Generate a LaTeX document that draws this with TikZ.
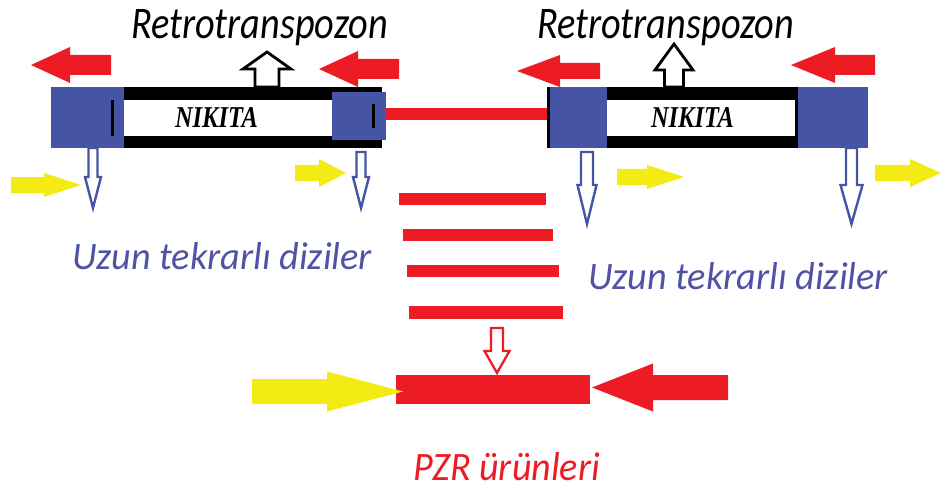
\documentclass[tikz,border=0pt]{standalone}
\usepackage{fontspec}
\usepackage{graphicx}
\setmainfont{Carlito}
\newfontfamily\nikfont{Liberation Serif}
\definecolor{bred}{HTML}{ED1C24}
\definecolor{bblue}{HTML}{4654A5}
\definecolor{byellow}{HTML}{F5EB14}
\definecolor{tblue}{HTML}{5052A6}
% horizontal block arrow: tip x, centre y, head-base x, tail x, half shaft, half head, style
\newcommand\hblockarrow[7]{%
  \path[#7] (#4,#2-#5) -- (#3,#2-#5) -- (#3,#2-#6) -- (#1,#2) -- (#3,#2+#6) -- (#3,#2+#5) -- (#4,#2+#5) -- cycle;}
% vertical block arrow: centre x, tip y, head-base y, tail y, half shaft, half head, style
\newcommand\vblockarrow[7]{%
  \path[#7] (#1-#5,#4) -- (#1-#5,#3) -- (#1-#6,#3) -- (#1,#2) -- (#1+#6,#3) -- (#1+#5,#3) -- (#1+#5,#4) -- cycle;}
\tikzset{
  redarrow/.style={fill=bred},
  yelarrow/.style={fill=byellow},
  bluedown/.style={draw=bblue,fill=white,line width=2.4pt,line join=miter},
  blackup/.style={draw=black,fill=white,line width=2.8pt,line join=miter},
  reddown/.style={draw=bred,fill=white,line width=2.3pt,line join=miter},
  lbl/.style={anchor=base west,inner sep=0pt,outer sep=0pt},
  redbar/.style={fill=bred},
}
\begin{document}
\begin{tikzpicture}[x=1pt,y=-1pt]
\useasboundingbox (0,0) rectangle (941,489);
% ---------- left element ----------
\fill[black] (124,87) rectangle (382,148);
\fill[white] (124,100) rectangle (332,136);
\fill[bblue] (51,87) rectangle (124,148);
\fill[bblue] (332,92) rectangle (386,140);
\fill[black] (111,100) rectangle (114,136);
\fill[black] (372,104) rectangle (375,128);
\coordinate (lend) at (386,114);
% ---------- right element ----------
\fill[black] (547,87) rectangle (798,148);
\fill[white] (607,100) rectangle (795,136);
\fill[bblue] (550,87) rectangle (607,148);
\fill[bblue] (798,87) rectangle (868,148);
\coordinate (rstart) at (547,114);
% connecting red line
\draw[bred,line width=12pt] (lend) -- (rstart);
% ---------- texts ----------
\node[lbl] (rt1) at (131,39) {\resizebox{257pt}{29pt}{\itshape Retrotranspozon}};
\node[lbl] (rt2) at (537,39) {\resizebox{257pt}{29pt}{\itshape Retrotranspozon}};
\node[lbl] (nk1) at (175,128) {\resizebox{83pt}{20pt}{\nikfont\bfseries\itshape NIKITA}};
\node[lbl] (nk2) at (651,128) {\resizebox{83pt}{20pt}{\nikfont\bfseries\itshape NIKITA}};
\node[lbl,text=tblue] (uz1) at (72,269) {\resizebox{300pt}{27pt}{\itshape Uzun tekrarlı diziler}};
\node[lbl,text=tblue] (uz2) at (588,289) {\resizebox{300pt}{27pt}{\itshape Uzun tekrarlı diziler}};
\node[lbl,text=bred] (pzr) at (413,480) {\resizebox{187pt}{28pt}{\itshape PZR ürünleri}};
% ---------- black up arrows ----------
\vblockarrow{267}{52}{69}{87}{12}{24}{blackup}
\vblockarrow{674}{44}{70}{87}{9.5}{19}{blackup}
% ---------- red left arrows ----------
\hblockarrow{31}{65}{70}{111}{10}{18}{redarrow}
\hblockarrow{319}{69}{358}{399}{10}{18}{redarrow}
\hblockarrow{517}{71}{560}{600}{8}{16}{redarrow}
\hblockarrow{791}{65}{835}{875}{10}{18}{redarrow}
% ---------- blue down arrows ----------
\vblockarrow{93}{208}{177}{148}{4.5}{8}{bluedown}
\vblockarrow{361}{208}{177}{152}{4.5}{8}{bluedown}
\vblockarrow{587}{224}{185}{152}{6}{9.5}{bluedown}
\vblockarrow{851.5}{224}{185}{148}{5.5}{11}{bluedown}
% ---------- yellow right arrows ----------
\hblockarrow{81}{185}{44}{11}{8}{12}{yelarrow}
\hblockarrow{346}{173}{319}{295}{8}{14}{yelarrow}
\hblockarrow{684}{177}{647}{617}{8}{12}{yelarrow}
\hblockarrow{941}{173}{910}{875}{8}{14}{yelarrow}
% ---------- PCR product lines ----------
\fill[bred] (399,193) rectangle (546,205);
\fill[bred] (403,229) rectangle (553,241);
\fill[bred] (407,265) rectangle (559,277);
\fill[bred] (409,306) rectangle (563,319);
% ---------- red down arrow ----------
\vblockarrow{497}{373}{351}{328}{6}{12.5}{reddown}
% ---------- bottom product ----------
\fill[bred] (396,375) rectangle (590,404);
\hblockarrow{403}{391.5}{327}{252}{12.5}{20}{yelarrow}
\hblockarrow{592}{387.5}{653}{728}{12.5}{24}{redarrow}
\end{tikzpicture}
\end{document}
